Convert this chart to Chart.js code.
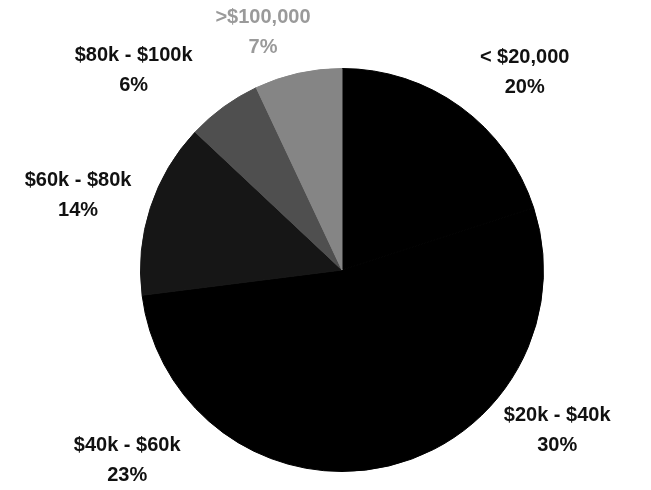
<!DOCTYPE html>
<html>
<head>
<meta charset="utf-8">
<script src="https://cdn.jsdelivr.net/npm/chart.js@4/dist/chart.umd.min.js"></script>
<style>
  html, body { margin: 0; padding: 0; background: #fff; }
  #wrap { width: 651px; height: 490px; }
</style>
</head>
<body>
<div id="wrap"><canvas id="incomeChart"></canvas></div>
<script>
// Household income brackets, share of respondents (%)
const brackets = ['< $20,000', '$20k - $40k', '$40k - $60k', '$60k - $80k', '$80k - $100k', '>$100,000'];
const shares = [20, 30, 23, 14, 6, 7];

const sliceColors = ['#000000', '#000000', '#000000', '#161616', '#4f4f4f', '#858585'];
const labelColors = ['#111', '#111', '#111', '#111', '#111', '#9a9a9a'];
// small angle (deg) / distance tweaks so labels sit like a best-fit layout
const labelPlacement = [
  { turn: 6.7, reach: 270 }, { turn: 0.7, reach: 269 }, { turn: 7, reach: 288 },
  { turn: -2.2, reach: 275 }, { turn: -10.3, reach: 289 }, { turn: -5.8, reach: 251 }
];

// draws "name / percent" labels outside each slice
const outsideLabels = {
  id: 'outsideLabels',
  afterDatasetsDraw(chart) {
    const ctx = chart.ctx;
    const meta = chart.getDatasetMeta(0);
    const total = shares.reduce((a, b) => a + b, 0);
    ctx.save();
    ctx.font = 'bold 20px "Liberation Sans", Arial, sans-serif';
    ctx.textAlign = 'center';
    ctx.textBaseline = 'middle';
    meta.data.forEach((arc, i) => {
      const p = arc.getProps(['x', 'y', 'startAngle', 'endAngle', 'outerRadius'], true);
      const mid = (p.startAngle + p.endAngle) / 2 + labelPlacement[i].turn * Math.PI / 180;
      const dist = labelPlacement[i].reach * p.outerRadius / 202;
      const lx = p.x + Math.cos(mid) * dist;
      const ly = p.y + Math.sin(mid) * dist;
      ctx.fillStyle = labelColors[i];
      ctx.fillText(brackets[i], lx, ly - 15);
      ctx.fillText(Math.round(shares[i] / total * 100) + '%', lx, ly + 15);
    });
    ctx.restore();
  }
};

new Chart(document.getElementById('incomeChart'), {
  type: 'pie',
  data: {
    labels: brackets,
    datasets: [{
      data: shares,
      backgroundColor: sliceColors,
      // same-colour border hides the antialiasing seams between black slices
      borderColor: sliceColors,
      borderWidth: 1,
      borderJoinStyle: 'miter'
    }]
  },
  options: {
    responsive: true,
    maintainAspectRatio: false,
    animation: false,
    layout: { padding: { left: 140, right: 107, top: 68, bottom: 18 } },
    plugins: {
      legend: { display: false },
      tooltip: { enabled: false }
    }
  },
  plugins: [outsideLabels]
});
</script>
</body>
</html>
